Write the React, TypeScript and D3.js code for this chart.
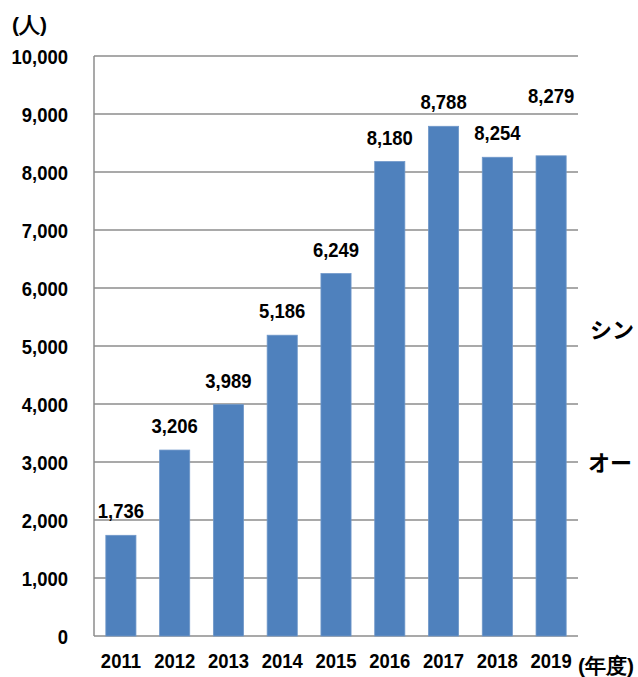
import React from "react";
import * as d3 from "d3";

const years = ["2011", "2012", "2013", "2014", "2015", "2016", "2017", "2018", "2019"];
const values = [1736, 3206, 3989, 5186, 6249, 8180, 8788, 8254, 8279];
const labelLift = [0, 0, 0, 0, 0, 0, 0, 0, 1];
const yTicks = [0, 1000, 2000, 3000, 4000, 5000, 6000, 7000, 8000, 9000, 10000];

const W = 638, H = 677;
const left = 94, right = 578, top = 56, bottom = 636;
const font = "'Liberation Sans', Arial, sans-serif";
const fs = 21;

function T({ x, y, anchor = "start", children, dy, sx = 0.88 }: { x: number; y: number; anchor?: string; children: any; dy?: string; sx?: number }) {
  return (
    <text transform={`translate(${x},${y}) scale(${sx},1)`} dy={dy} textAnchor={anchor} fontSize={fs} fontWeight="bold" fill="#000">
      {children}
    </text>
  );
}

export default function App() {
  const x = d3.scaleBand().domain(years).range([left, right]).paddingInner(0.44).paddingOuter(0.22);
  const y = d3.scaleLinear().domain([0, 10000]).range([bottom, top]);
  const fmt = d3.format(",");
  return (
    <svg width={W} height={H} style={{ position: "absolute", left: 0, top: 0 }} fontFamily={font}>
      <rect width={W} height={H} fill="#fff" />
      {yTicks.map((t) => (
        <g key={t}>
          {t > 0 && <line x1={left} x2={right} y1={y(t)} y2={y(t)} stroke="#8c8c8c" strokeWidth={1.3} />}
          <T x={68} y={y(t)} dy="0.36em" anchor="end">{fmt(t)}</T>
        </g>
      ))}
      <line x1={left} x2={left} y1={top} y2={bottom} stroke="#8c8c8c" strokeWidth={1.5} />
      <line x1={left} x2={right} y1={bottom} y2={bottom} stroke="#8c8c8c" strokeWidth={1.5} />
      {years.map((yr, i) => (
        <g key={yr}>
          <rect x={x(yr)!} y={y(values[i])} width={x.bandwidth()} height={bottom - y(values[i])} fill="#4f81bd" stroke="#6f97c9" strokeWidth={0.8} />
          <T x={x(yr)! + x.bandwidth() / 2} y={y(values[i]) - 17 - labelLift[i] * 36} anchor="middle">{fmt(values[i])}</T>
          <T x={x(yr)! + x.bandwidth() / 2} y={668} anchor="middle">{yr}</T>
        </g>
      ))}
      <T x={12} y={32} sx={1}>(人)</T>
      <T x={578} y={673} sx={1}>(年度)</T>
      <text x={590} y={338} fontSize={22} fontWeight="bold" fill="#000" fontFamily="'Noto Sans CJK JP', sans-serif">シン</text>
      <text x={588} y={471} fontSize={22} fontWeight="bold" fill="#000" fontFamily="'Noto Sans CJK JP', sans-serif">オー</text>
    </svg>
  );
}
